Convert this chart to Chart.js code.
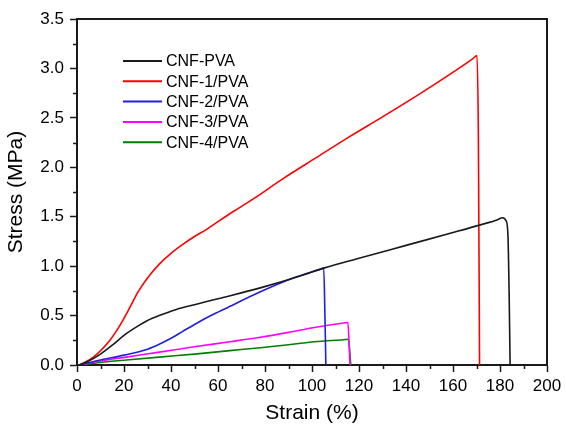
<!DOCTYPE html>
<html>
<head>
<meta charset="utf-8">
<script src="https://cdn.jsdelivr.net/npm/chart.js@4"></script>
<style>
  html, body { margin: 0; padding: 0; background: #fff; }
  #wrap { width: 566px; height: 426px; }
</style>
</head>
<body>
<div id="wrap"><canvas id="stressChart" width="566" height="426"></canvas></div>
<script>
const seriesLabels = ['CNF-PVA', 'CNF-1/PVA', 'CNF-2/PVA', 'CNF-3/PVA', 'CNF-4/PVA'];
const seriesColors = ['#1a1a1a', '#ff0000', '#1f1fe0', '#ff00ff', '#008000'];

// strain (%) / stress (MPa) pairs for each sample
const strainPVA = [1, 5, 10, 15, 20, 25, 30, 35, 42, 50, 60, 78, 95, 105, 120, 140, 160, 172, 179, 181, 182.6, 183.4, 183.9, 184.3];
const stressPVA = [0, 0.04, 0.11, 0.2, 0.3, 0.38, 0.45, 0.5, 0.56, 0.61, 0.67, 0.78, 0.9, 0.98, 1.08, 1.21, 1.34, 1.42, 1.47, 1.49, 1.46, 1.3, 0.7, 0];

const strainCNF1 = [1, 7, 14, 18, 22, 26, 30, 35, 40, 45, 50, 55, 60, 67, 75, 88, 102, 116, 130, 145, 158, 168.5, 170.2, 170.8, 171.3];
const stressCNF1 = [0, 0.08, 0.25, 0.39, 0.56, 0.74, 0.88, 1.02, 1.13, 1.22, 1.3, 1.37, 1.45, 1.56, 1.68, 1.89, 2.1, 2.31, 2.51, 2.73, 2.93, 3.1, 3.13, 2.3, 0];

const strainCNF2 = [1, 10, 20, 30, 35, 40, 45, 50, 57, 64, 78, 92, 103, 105, 105.5, 105.9];
const stressCNF2 = [0, 0.05, 0.1, 0.16, 0.21, 0.27, 0.34, 0.41, 0.5, 0.58, 0.74, 0.88, 0.965, 0.98, 0.5, 0];

const strainCNF3 = [1, 10, 21, 35, 50, 65, 78, 90, 101, 113.5, 115.3, 115.8, 116.2];
const stressCNF3 = [0, 0.04, 0.08, 0.13, 0.185, 0.235, 0.28, 0.33, 0.38, 0.425, 0.43, 0.2, 0];

const strainCNF4 = [1, 10, 21, 35, 50, 65, 78, 90, 101, 113.5, 115.6, 116.1, 116.5];
const stressCNF4 = [0, 0.025, 0.05, 0.08, 0.11, 0.145, 0.175, 0.205, 0.235, 0.256, 0.26, 0.12, 0];

const strainSets = [strainPVA, strainCNF1, strainCNF2, strainCNF3, strainCNF4];
const stressSets = [stressPVA, stressCNF1, stressCNF2, stressCNF3, stressCNF4];

const xMinorTicks = [10, 30, 50, 70, 90, 110, 130, 150, 170, 190];
const yMinorTicks = [0.25, 0.75, 1.25, 1.75, 2.25, 2.75, 3.25];

const FONT = "'Liberation Sans', Arial, sans-serif";
const AXIS_COLOR = '#1a1a1a';

// short minor ticks, top/right frame and the in-plot legend
const framePlugin = {
  id: 'frame',
  afterDraw(chart) {
    const { ctx, chartArea: a, scales } = chart;
    ctx.save();
    ctx.strokeStyle = AXIS_COLOR;
    ctx.lineWidth = 2;
    ctx.beginPath();
    ctx.moveTo(a.left, a.top);
    ctx.lineTo(a.right, a.top);
    ctx.lineTo(a.right, a.bottom);
    ctx.stroke();

    ctx.lineWidth = 1.5;
    ctx.beginPath();
    xMinorTicks.forEach(v => {
      const px = Math.round(scales.x.getPixelForValue(v)) + 0.5;
      ctx.moveTo(px, a.bottom);
      ctx.lineTo(px, a.bottom + 4);
    });
    yMinorTicks.forEach(v => {
      const py = Math.round(scales.y.getPixelForValue(v)) + 0.5;
      ctx.moveTo(a.left, py);
      ctx.lineTo(a.left - 4, py);
    });
    ctx.stroke();

    ctx.font = '16px ' + FONT;
    ctx.textBaseline = 'middle';
    ctx.fillStyle = '#000';
    chart.data.datasets.forEach((ds, i) => {
      const y = a.top + 42 + i * 20.3;
      ctx.strokeStyle = ds.borderColor;
      ctx.lineWidth = 2;
      ctx.beginPath();
      ctx.moveTo(a.left + 46, y);
      ctx.lineTo(a.left + 85, y);
      ctx.stroke();
      ctx.fillText(ds.label, a.left + 89, y + 1);
    });
    ctx.restore();
  }
};

const datasets = seriesLabels.map((label, i) => ({
  label,
  data: strainSets[i].map((x, j) => ({ x, y: stressSets[i][j] })),
  borderColor: seriesColors[i],
  borderWidth: 1.6,
  pointRadius: 0,
  fill: false,
  cubicInterpolationMode: 'monotone',
}));

new Chart(document.getElementById('stressChart'), {
  type: 'line',
  data: { datasets },
  options: {
    responsive: false,
    animation: false,
    layout: { padding: { top: 19, right: 19, left: 0, bottom: 0 } },
    plugins: {
      legend: { display: false },
      tooltip: { enabled: false },
    },
    scales: {
      x: {
        type: 'linear',
        min: 0,
        max: 200,
        ticks: { stepSize: 20, color: '#000', font: { family: FONT, size: 17 }, padding: 4, maxRotation: 0 },
        grid: { drawOnChartArea: false, drawTicks: true, tickLength: 7, tickColor: AXIS_COLOR, tickWidth: 1.5 },
        border: { color: AXIS_COLOR, width: 2 },
        title: {
          display: true,
          text: 'Strain (%)',
          color: '#000',
          font: { family: FONT, size: 21, lineHeight: 1 },
          padding: { top: 0, bottom: 2 },
        },
        afterFit(scale) { scale.height = 61; },
      },
      y: {
        min: 0,
        max: 3.5,
        ticks: {
          stepSize: 0.5,
          color: '#000',
          font: { family: FONT, size: 17 },
          padding: 6,
          callback: v => v.toFixed(1),
        },
        grid: { drawOnChartArea: false, drawTicks: true, tickLength: 7, tickColor: AXIS_COLOR, tickWidth: 1.5 },
        border: { color: AXIS_COLOR, width: 2 },
        title: {
          display: true,
          text: 'Stress (MPa)',
          color: '#000',
          font: { family: FONT, size: 21, lineHeight: 1 },
          padding: { top: 6, bottom: 0 },
        },
        afterFit(scale) { scale.width = 77; },
      },
    },
  },
  plugins: [framePlugin],
});
</script>
</body>
</html>
